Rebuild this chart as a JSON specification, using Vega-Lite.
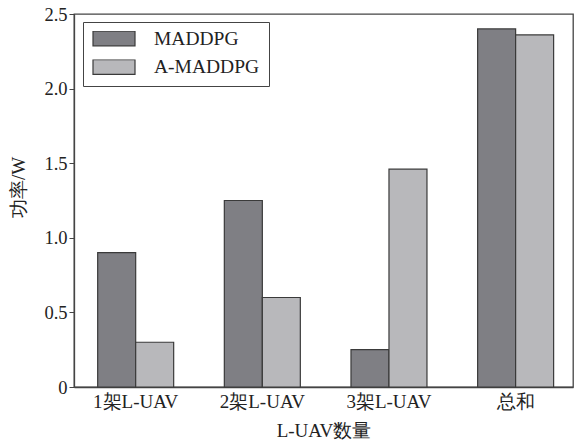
{
  "$schema": "https://vega.github.io/schema/vega-lite/v6.json",
  "autosize": "none",
  "padding": {"left": 74, "top": 14, "right": 2, "bottom": 54},
  "width": 499,
  "height": 373,
  "background": "white",
  "config": {
    "font": "Liberation Serif",
    "view": {"stroke": "#444", "strokeWidth": 1.3},
    "axis": {
      "domainColor": "#444",
      "domainWidth": 1.3,
      "tickColor": "#444",
      "labelFont": "Liberation Serif",
      "titleFont": "Liberation Serif",
      "labelColor": "#222",
      "titleColor": "#222",
      "labelFontSize": 19,
      "titleFontSize": 19,
      "titleFontWeight": "normal",
      "grid": false
    }
  },
  "data": {
    "values": [
      {"group": "1架L-UAV", "method": "MADDPG", "power": 0.9},
      {"group": "1架L-UAV", "method": "A-MADDPG", "power": 0.3},
      {"group": "2架L-UAV", "method": "MADDPG", "power": 1.25},
      {"group": "2架L-UAV", "method": "A-MADDPG", "power": 0.6},
      {"group": "3架L-UAV", "method": "MADDPG", "power": 0.25},
      {"group": "3架L-UAV", "method": "A-MADDPG", "power": 1.46},
      {"group": "总和", "method": "MADDPG", "power": 2.4},
      {"group": "总和", "method": "A-MADDPG", "power": 2.36}
    ]
  },
  "mark": {"type": "bar", "stroke": "#3a3a3a", "strokeWidth": 1.2},
  "encoding": {
    "x": {
      "field": "group",
      "type": "nominal",
      "sort": null,
      "title": "L-UAV数量",
      "scale": {"paddingInner": 0.4, "paddingOuter": 0.17, "align": 0.55},
      "axis": {"labelAngle": 0, "ticks": false, "labelPadding": 5, "titlePadding": 10}
    },
    "xOffset": {
      "field": "method",
      "type": "nominal",
      "sort": ["MADDPG", "A-MADDPG"],
      "scale": {"paddingInner": 0, "paddingOuter": 0}
    },
    "y": {
      "field": "power",
      "type": "quantitative",
      "title": "功率/W",
      "scale": {"domain": [0, 2.5], "nice": false},
      "axis": {
        "values": [0, 0.5, 1, 1.5, 2, 2.5],
        "labelExpr": "datum.value == 0 ? '0' : format(datum.value, '.1f')",
        "labelFontSize": 18.5,
        "tickSize": 5,
        "labelPadding": 2,
        "titleY": 173,
        "titleX": -46
      }
    },
    "color": {
      "field": "method",
      "type": "nominal",
      "sort": ["MADDPG", "A-MADDPG"],
      "scale": {"domain": ["MADDPG", "A-MADDPG"], "range": ["#7f7f84", "#b8b8bb"]},
      "legend": {
        "title": null,
        "orient": "none",
        "legendX": 9,
        "legendY": 8,
        "strokeColor": "#444",
        "fillColor": "white",
        "padding": 9,
        "clipHeight": 15,
        "symbolType": "M-1,-0.35H1V0.35H-1Z",
        "symbolSize": 1764,
        "symbolStrokeColor": "#3a3a3a",
        "symbolStrokeWidth": 1.2,
        "symbolOpacity": 1,
        "labelFont": "Liberation Serif",
        "labelFontSize": 19.5,
        "labelColor": "#222",
        "labelOffset": 18,
        "rowPadding": 8.5
      }
    }
  }
}
